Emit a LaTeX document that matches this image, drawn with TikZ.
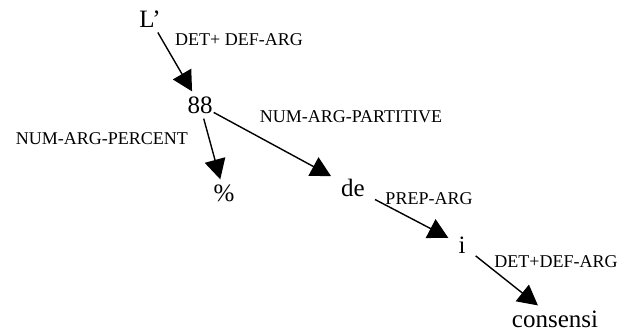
\documentclass[tikz,border=0pt]{standalone}
\usepackage{fontspec}
\setmainfont{Liberation Serif}
\usetikzlibrary{arrows.meta}

\begin{document}
\begin{tikzpicture}[x=1pt,y=-1pt,
  word/.style={font=\fontsize{25}{28}\selectfont,inner xsep=10pt,inner ysep=5pt},
  rel/.style={font=\fontsize{18}{20}\selectfont,inner sep=0pt},
  dep/.style={line width=1.4pt,-{Triangle[length=20pt,width=21pt]}}]
  \useasboundingbox (0,0) rectangle (620,332);
  % words
  \node[word] (l) at (150,19) {L’};
  \node[word,inner xsep=1pt] (n88) at (200,105) {88};
  \node[word] (pct) at (224,193) {\%};
  \node[word] (de) at (353,188) {de};
  \node[word] (i) at (462,245) {i};
  \node[word] (cons) at (555,319) {consensi};
  % relations
  \node[rel] (r1) at (239,40) {DET+ DEF-ARG};
  \node[rel] (r2) at (102,139) {NUM-ARG-PERCENT};
  \node[rel] (r3) at (351,117) {NUM-ARG-PARTITIVE};
  \node[rel] (r4) at (429,199) {PREP-ARG};
  \node[rel] (r5) at (556,262) {DET+DEF-ARG};
  % arcs
  \draw[dep] (l) -- (n88);
  \draw[dep] (n88) -- (pct);
  \draw[dep] (n88) -- (de);
  \draw[dep] (de) -- (i);
  \draw[dep] (i) -- (cons);
\end{tikzpicture}
\end{document}
